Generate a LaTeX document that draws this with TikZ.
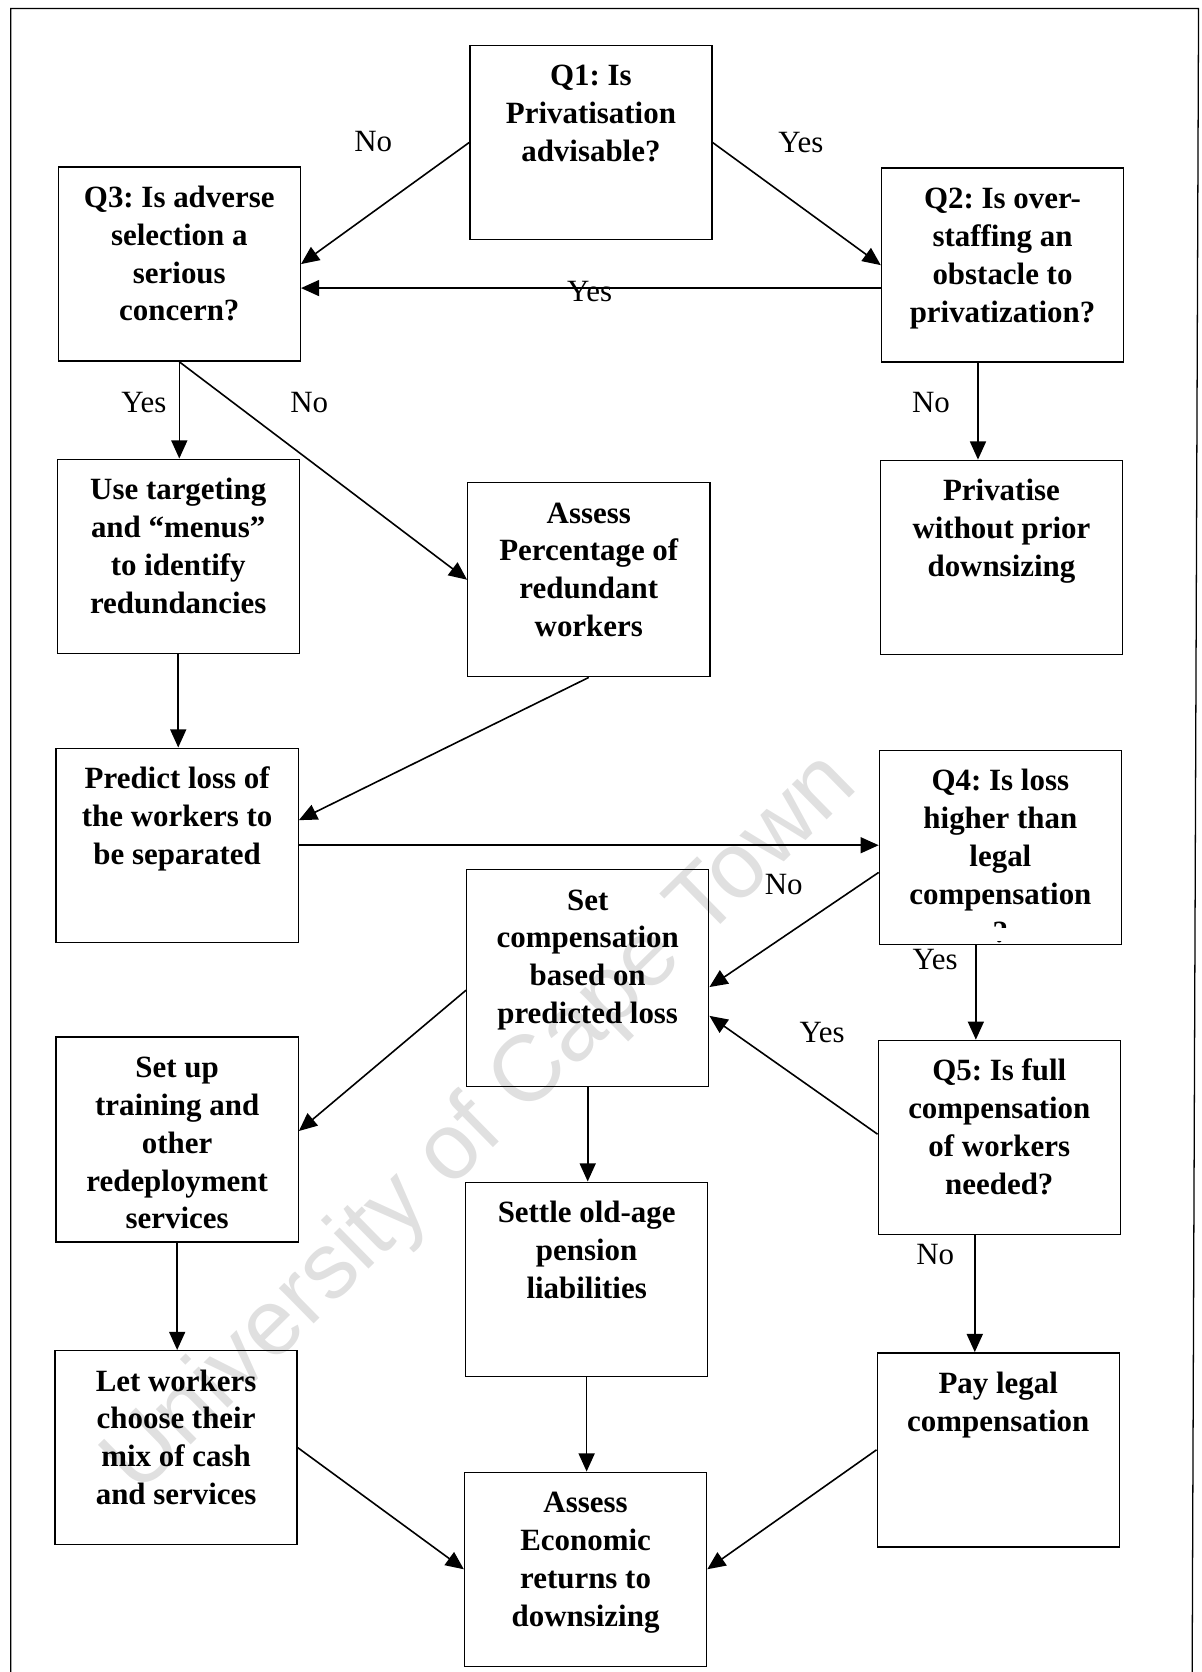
\documentclass[tikz,border=0pt]{standalone}
\usepackage{fontspec}
\setmainfont{Liberation Serif}
\newfontfamily\wmfont{Liberation Sans}
\usetikzlibrary{arrows.meta}
\frenchspacing

% text of a box, set from its top edge
\newcommand{\bx}[2][182pt]{\parbox[c][#1][t]{227pt}{\centering\vspace*{13pt}\strut#2}}

\begin{document}
\begin{tikzpicture}[x=1pt,y=-1pt]
\tikzset{box/.style={draw, line width=1.3pt, inner sep=0pt, anchor=north west, font=\bfseries\fontsize{29}{35.5}\selectfont},
  lbl/.style={inner sep=0pt, anchor=base, font=\fontsize{29}{35.5}\selectfont},
  arr/.style={line width=1.5pt, -{Triangle[length=17pt,width=15pt]}}}
\useasboundingbox (0,0) rectangle (1127,1568);
\node[rotate=44.5, text=black!12, inner sep=0pt, font=\wmfont\fontsize{88}{88}\selectfont] (wm) at (452,1055) {University of Cape Town};
\draw[line width=1.2pt] (10,1568) -- (10,8) -- (1124,8) -- (1118,1568);
% boxes
\node[box] (q1) at (440,42) {\bx{Q1: Is\\Privatisation\\advisable?}};
\node[box] (q3) at (54,156) {\bx{Q3: Is adverse\\selection a\\serious\\concern?}};
\node[box] (q2) at (826,157) {\bx{Q2: Is over-\\staffing an\\obstacle to\\privatization?}};
\node[box] (target) at (53,430) {\bx{Use targeting\\and “menus”\\to identify\\redundancies}};
\node[box] (assess) at (438,452) {\bx{Assess\\Percentage of\\redundant\\workers}};
\node[box] (priv) at (825,431) {\bx{Privatise\\without prior\\downsizing}};
\node[box] (predict) at (52,701) {\bx{Predict loss of\\the workers to\\be separated}};
\node[box] (q4) at (824,703) {\bx{Q4: Is loss\\higher than\\legal\\compensation\\?}};
\fill[white] (900,870) rectangle (975,882.5);
\node[box] (setcomp) at (437,815) {\bx[203pt]{Set\\compensation\\based on\\predicted loss}};
\node[box] (training) at (52,972) {\bx[192pt]{Set up\\training and\\other\\redeployment\\services}};
\node[box] (q5) at (823,975) {\bx{Q5: Is full\\compensation\\of workers\\needed?}};
\node[box] (settle) at (436,1108) {\bx{Settle old-age\\pension\\liabilities}};
\node[box] (letw) at (51,1266) {\bx{Let workers\\choose their\\mix of cash\\and services}};
\node[box] (pay) at (822,1268) {\bx{Pay legal\\compensation}};
\node[box] (econ) at (435,1380) {\bx{Assess\\Economic\\returns to\\downsizing}};
% arrows
\draw[arr] (q1.west) -- (q3.east);
\draw[arr] (q1.east) -- (q2.west);
\draw[arr] ([yshift=-21.5pt]q2.west) -- ([yshift=-21.5pt]q2.west -| q3.east);
\draw[arr] (q3.south) -- (q3.south |- target.north);
\draw[arr] (q3.south) -- (assess.west);
\draw[arr] ([xshift=-23pt]q2.south) -- ([xshift=-23pt]q2.south |- priv.north);
\draw[arr] (target.south) -- (target.south |- predict.north);
\draw[arr] (assess.south) -- ([yshift=23.5pt]predict.east);
\draw[arr] (predict.east) -- (predict.east -| q4.west);
\draw[arr] ([yshift=-23.5pt]q4.west) -- ([yshift=-8.5pt]setcomp.east);
\draw[arr] ([xshift=-23pt]q4.south) -- ([xshift=-23pt]q4.south |- q5.north);
\draw[arr] ([yshift=3pt]q5.west) -- ([yshift=-35.5pt]setcomp.east);
\draw[arr] ([yshift=-11.5pt]setcomp.west) -- ([yshift=8pt]training.east);
\draw[arr] (setcomp.south) -- (setcomp.south |- settle.north);
\draw[arr] (training.south) -- (training.south |- letw.north);
\draw[arr] ([xshift=-23pt]q5.south) -- ([xshift=-23pt]q5.south |- pay.north);
\draw[arr] (settle.south) -- (settle.south |- econ.north);
\draw[arr] (letw.east) -- (econ.west);
\draw[arr] (pay.west) -- (econ.east);
% labels
\node[lbl] (no1) at (350,142) {No};
\node[lbl] (yes1) at (751,143) {Yes};
\node[lbl] (yes2) at (553,283) {Yes};
\node[lbl] (yes3) at (135,387) {Yes};
\node[lbl] (no2) at (290,387) {No};
\node[lbl] (no3) at (873,387) {No};
\node[lbl] (no4) at (735,839) {No};
\node[lbl] (yes4) at (877,909) {Yes};
\node[lbl] (yes5) at (771,978) {Yes};
\node[lbl] (no5) at (877,1186) {No};
\end{tikzpicture}
\end{document}
